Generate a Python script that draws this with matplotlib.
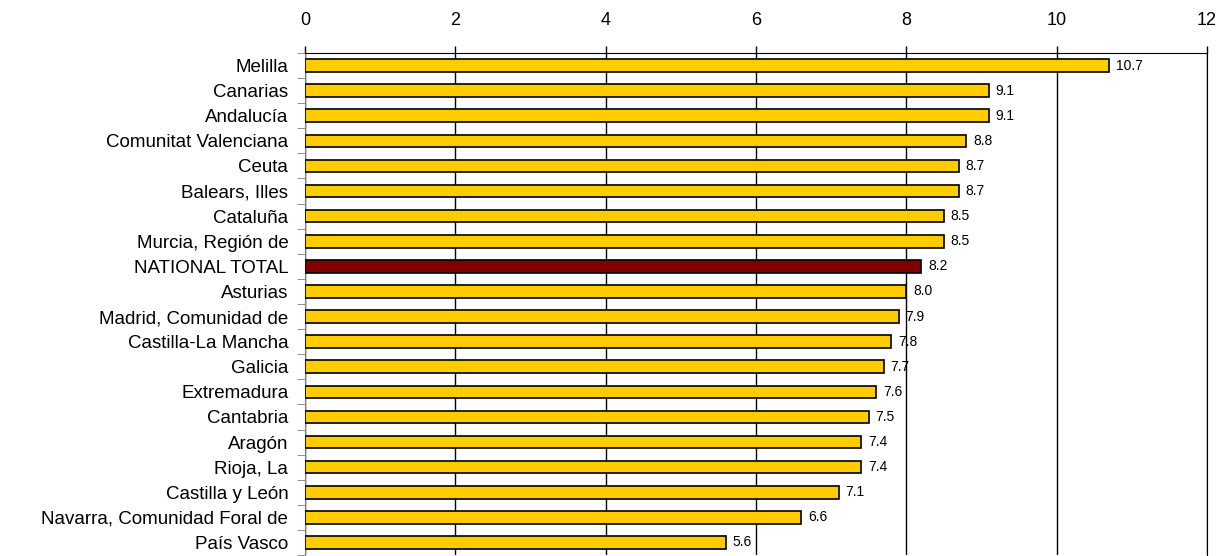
import matplotlib.pyplot as plt
import numpy as np

plt.rcParams['font.family'] = ['Liberation Sans', 'DejaVu Sans']

regions = [
    "Melilla", "Canarias", "Andalucía", "Comunitat Valenciana", "Ceuta",
    "Balears, Illes", "Cataluña", "Murcia, Región de", "NATIONAL TOTAL",
    "Asturias", "Madrid, Comunidad de", "Castilla-La Mancha", "Galicia",
    "Extremadura", "Cantabria", "Aragón", "Rioja, La", "Castilla y León",
    "Navarra, Comunidad Foral de", "País Vasco",
]
values = [10.7, 9.1, 9.1, 8.8, 8.7, 8.7, 8.5, 8.5, 8.2, 8.0,
          7.9, 7.8, 7.7, 7.6, 7.5, 7.4, 7.4, 7.1, 6.6, 5.6]
x_ticks = [0, 2, 4, 6, 8, 10, 12]

colors = ["#800000" if r == "NATIONAL TOTAL" else "#FFCC00" for r in regions]

fig = plt.figure(figsize=(12.31, 5.56), dpi=100)
ax = fig.add_axes([305 / 1231, 1 / 556, 902 / 1231, 502 / 556])

y = np.arange(len(regions))
ax.barh(y, values, height=0.5, color=colors, edgecolor="black", linewidth=1.2, zorder=3)

# value labels just past the end of each bar
for yi, v in zip(y, values):
    ax.text(v + 0.09, yi, f"{v:.1f}", va="center", ha="left", fontsize=10, zorder=4)

ax.set_xlim(0, 12)
ax.set_ylim(len(regions) - 0.5, -0.5)

ax.xaxis.tick_top()
ax.set_xticks(x_ticks)
ax.tick_params(axis="x", direction="out", length=5, width=1, color="black",
               labelsize=13, pad=12)
ax.grid(axis="x", color="black", linewidth=1, zorder=0)

ax.set_yticks(y)
ax.set_yticklabels(regions, fontsize=13.5)
ax.set_yticks(np.arange(len(regions) + 1) - 0.5, minor=True)
ax.tick_params(axis="y", which="major", length=0, pad=12)
ax.tick_params(axis="y", which="minor", direction="out", length=6, color="#808080")

ax.spines["bottom"].set_visible(False)
ax.spines["left"].set_color("#808080")
ax.spines["top"].set_color("black")
ax.spines["right"].set_color("black")

fig.savefig("out.png", dpi=100)
